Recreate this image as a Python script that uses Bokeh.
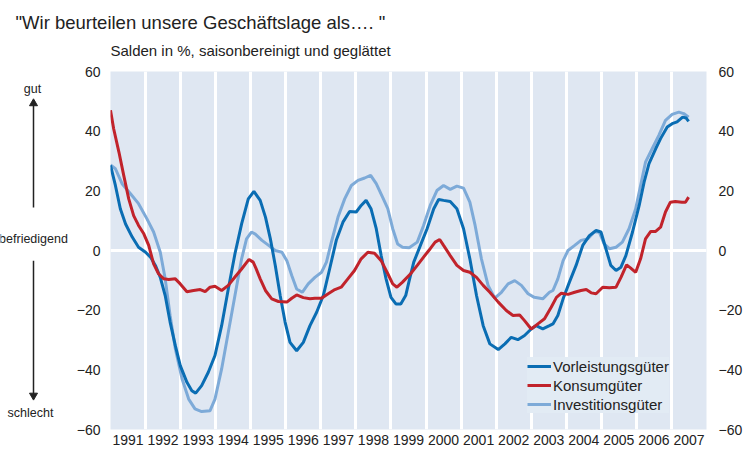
from bokeh.plotting import figure
from bokeh.layouts import column, row
from bokeh.models import (LinearAxis, FixedTicker, CustomJSTickFormatter, Legend, LegendItem,
                          Range1d)
from bokeh.core.properties import value
from bokeh.embed import file_html
from bokeh.resources import INLINE

# ---------------- data ----------------
title_text = "\"Wir beurteilen unsere Geschäftslage als…. \""
subtitle_text = "Salden in %, saisonbereinigt und geglättet"
series_names = ["Vorleistungsgüter", "Konsumgüter", "Investitionsgüter"]
year_labels = list(range(1991, 2008))
y_ticks = [-60, -40, -20, 0, 20, 40, 60]
side_texts = ["gut", "befriedigend", "schlecht"]
side_text_y = [54.3, 4.0, -54.6]          # in Salden-% units of the main scale
arrow_up = (14.4, 50.6)                   # shaft start, tip
arrow_down = (-3.4, -49.9)

t_vor = [1991.00, 1991.14, 1991.28, 1991.43, 1991.62, 1991.80, 1992.00, 1992.14, 1992.28, 1992.42,
         1992.56, 1992.70, 1992.85, 1992.99, 1993.18, 1993.32, 1993.43, 1993.60, 1993.79, 1993.98,
         1994.17, 1994.36, 1994.55, 1994.74, 1994.93, 1995.09, 1995.27, 1995.42, 1995.56, 1995.70,
         1995.84, 1995.98, 1996.12, 1996.31, 1996.50, 1996.69, 1996.88, 1997.07, 1997.25, 1997.44,
         1997.63, 1997.82, 1998.01, 1998.15, 1998.29, 1998.43, 1998.58, 1998.72, 1998.86, 1999.00,
         1999.14, 1999.28, 1999.42, 1999.51, 1999.65, 1999.84, 2000.03, 2000.22, 2000.36, 2000.50,
         2000.69, 2000.88, 2001.07, 2001.25, 2001.44, 2001.63, 2001.82, 2002.06, 2002.25, 2002.43,
         2002.62, 2002.81, 2003.00, 2003.14, 2003.33, 2003.52, 2003.62, 2003.76, 2003.91, 2004.09,
         2004.28, 2004.47, 2004.66, 2004.85, 2004.99, 2005.13, 2005.27, 2005.42, 2005.56, 2005.70,
         2005.89, 2006.08, 2006.22, 2006.36, 2006.55, 2006.69, 2006.88, 2007.02, 2007.16, 2007.32,
         2007.42, 2007.49]
vor = [28.5, 21.8, 14.0, 8.9, 4.5, 1.1, -0.6, -2.2, -5.0, -9.0,
       -15.1, -24.0, -31.9, -38.6, -44.2, -47.0, -47.8, -45.3, -40.8, -35.2,
       -25.2, -12.9, -1.1, 8.9, 17.3, 19.8, 16.8, 11.2, 3.9, -5.0,
       -15.1, -24.0, -30.8, -33.6, -30.8, -25.2, -20.7, -15.1, -6.2, 3.4,
       9.5, 13.1, 12.9, 15.1, 16.8, 14.0, 7.3, -1.7, -9.5, -15.7,
       -17.9, -17.9, -15.1, -10.6, -3.9, 1.7, 7.3, 14.0, 17.1, 16.8,
       16.4, 14.0, 7.3, -2.8, -15.1, -25.2, -31.3, -33.2, -31.3, -29.1,
       -29.9, -28.5, -26.3, -25.2, -26.3, -25.2, -24.6, -21.8, -16.2, -10.6,
       -5.0, 1.7, 5.0, 6.7, 6.2, 0.6, -5.0, -6.7, -5.6, -1.7,
       6.2, 15.1, 22.9, 29.1, 34.1, 37.5, 41.4, 42.5, 43.1, 44.7,
       44.4, 43.3]

t_kon = [1991.00, 1991.09, 1991.24, 1991.38, 1991.52, 1991.66, 1991.80, 1991.95, 1992.09, 1992.23,
         1992.37, 1992.52, 1992.66, 1992.85, 1992.99, 1993.18, 1993.37, 1993.56, 1993.70, 1993.84,
         1993.98, 1994.17, 1994.36, 1994.55, 1994.74, 1994.95, 1995.07, 1995.15, 1995.27, 1995.42,
         1995.60, 1995.79, 1996.03, 1996.17, 1996.31, 1996.50, 1996.69, 1996.83, 1997.02, 1997.21,
         1997.40, 1997.58, 1997.77, 1997.96, 1998.15, 1998.34, 1998.53, 1998.72, 1998.91, 1999.05,
         1999.17, 1999.33, 1999.56, 1999.75, 1999.93, 2000.12, 2000.26, 2000.39, 2000.50, 2000.69,
         2000.88, 2001.07, 2001.25, 2001.44, 2001.63, 2001.82, 2002.06, 2002.29, 2002.48, 2002.67,
         2002.81, 2003.00, 2003.19, 2003.38, 2003.57, 2003.72, 2003.86, 2004.05, 2004.24, 2004.42,
         2004.57, 2004.71, 2004.85, 2005.04, 2005.23, 2005.42, 2005.56, 2005.72, 2005.84, 2005.98,
         2006.12, 2006.26, 2006.41, 2006.55, 2006.69, 2006.83, 2006.97, 2007.11, 2007.30, 2007.40,
         2007.49]
kon = [47.0, 40.8, 33.0, 25.0, 17.3, 11.7, 8.4, 5.6, 1.7, -4.5,
       -7.8, -9.5, -9.7, -9.5, -11.2, -13.8, -13.4, -13.1, -13.8, -12.3,
       -12.0, -13.4, -11.7, -8.9, -6.2, -3.0, -3.9, -6.0, -9.5, -13.4,
       -16.2, -17.1, -17.3, -16.0, -14.9, -15.8, -16.2, -16.0, -16.0, -14.5,
       -13.1, -12.3, -9.5, -6.7, -2.8, -0.6, -0.9, -3.4, -7.8, -11.2,
       -12.3, -10.6, -7.8, -5.0, -2.2, 0.6, 2.8, 3.7, 1.7, -1.7,
       -5.0, -6.7, -7.3, -9.0, -11.7, -14.0, -17.3, -20.1, -21.8, -21.6,
       -23.5, -26.3, -24.6, -22.9, -19.0, -15.7, -14.3, -14.7, -14.0, -13.4,
       -13.1, -14.2, -14.5, -12.3, -12.5, -12.3, -9.0, -4.8, -5.9, -7.3,
       -2.8, 3.9, 6.4, 6.4, 7.8, 12.9, 16.2, 16.4, 16.2, 16.2,
       17.9]

t_inv = [1991.00, 1991.14, 1991.33, 1991.57, 1991.80, 1992.04, 1992.23, 1992.42, 1992.56, 1992.70,
         1992.85, 1993.04, 1993.23, 1993.41, 1993.60, 1993.84, 1993.98, 1994.17, 1994.36, 1994.55,
         1994.74, 1994.88, 1995.02, 1995.13, 1995.32, 1995.51, 1995.70, 1995.89, 1996.03, 1996.17,
         1996.31, 1996.47, 1996.64, 1996.83, 1997.02, 1997.16, 1997.30, 1997.49, 1997.68, 1997.87,
         1998.06, 1998.25, 1998.42, 1998.58, 1998.76, 1998.91, 1999.05, 1999.19, 1999.33, 1999.52,
         1999.75, 1999.93, 2000.12, 2000.31, 2000.50, 2000.69, 2000.88, 2001.07, 2001.25, 2001.40,
         2001.58, 2001.77, 2001.96, 2002.15, 2002.34, 2002.53, 2002.72, 2002.91, 2003.09, 2003.33,
         2003.52, 2003.62, 2003.76, 2003.91, 2004.05, 2004.24, 2004.42, 2004.61, 2004.80, 2004.94,
         2005.08, 2005.23, 2005.42, 2005.60, 2005.79, 2005.98, 2006.12, 2006.26, 2006.45, 2006.64,
         2006.83, 2007.02, 2007.21, 2007.35, 2007.49]
inv = [28.7, 27.4, 22.4, 19.0, 15.7, 10.6, 6.2, -0.6, -9.5, -21.8,
       -33.0, -43.0, -49.8, -53.1, -54.0, -53.7, -49.8, -39.7, -27.4, -15.1,
       -2.8, 3.9, 6.2, 5.5, 3.4, 1.7, 0.0, -0.6, -3.4, -8.4,
       -12.9, -14.0, -11.2, -9.0, -7.3, -3.9, 2.8, 11.2, 17.3, 21.8,
       23.5, 24.3, 25.2, 22.4, 17.9, 14.0, 7.3, 2.2, 1.1, 0.9,
       2.8, 8.4, 15.1, 20.1, 21.8, 20.5, 21.6, 20.9, 16.2, 8.4,
       -2.8, -11.7, -16.0, -14.0, -11.2, -10.1, -11.7, -14.5, -15.7, -16.2,
       -14.0, -13.4, -9.5, -3.4, 0.0, 1.7, 3.4, 3.9, 6.2, 6.2,
       2.2, 0.6, 1.1, 2.8, 7.3, 14.0, 21.8, 29.6, 34.1, 38.6,
       43.6, 45.6, 46.4, 45.9, 44.7]

# ---------------- styling / layout ----------------
FONT = "Liberation Sans"
TXT = "#222222"
BAND = "#dfe7f2"
C_VOR, C_KON, C_INV = "#0a6db3", "#c1232b", "#7daad8"

TOTAL_W = 745
HDR_H = 62
BODY_H = 389
SIDE_W = 70
MAIN_W = TOTAL_W - SIDE_W
B_TOP, B_BOT = 9, 22

common = dict(output_backend="svg", toolbar_location=None, title_location=None,
              border_fill_color="white", outline_line_color=None)

# ---- header (title + subtitle) ----
hdr = figure(width=TOTAL_W, height=HDR_H, x_range=Range1d(0, TOTAL_W), y_range=Range1d(HDR_H, 0),
             x_axis_location=None, y_axis_location=None,
             min_border_left=0, min_border_right=0, min_border_top=0, min_border_bottom=0,
             background_fill_color="white", **common)
hdr.grid.visible = False
hdr.text(x=[15], y=[22], text=[title_text], text_font=value(FONT), text_font_size="18.5px",
         text_baseline="alphabetic", text_align="left", text_color=TXT)
hdr.text(x=[SIDE_W + 40], y=[50], text=[subtitle_text], text_font=value(FONT),
         text_font_size="15px", text_baseline="alphabetic", text_align="left", text_color=TXT)

# ---- main chart ----
yr = Range1d(-60, 60)
p = figure(width=MAIN_W, height=BODY_H, x_range=Range1d(1991, 2008), y_range=yr,
           min_border_left=40, min_border_right=37, min_border_top=B_TOP, min_border_bottom=B_BOT,
           background_fill_color=BAND, **common)

p.xgrid.ticker = FixedTicker(ticks=year_labels[1:])
p.xgrid.grid_line_color = "white"
p.xgrid.grid_line_width = 3
p.ygrid.ticker = FixedTicker(ticks=[0])
p.ygrid.grid_line_color = "white"
p.ygrid.grid_line_width = 3

xa = p.xaxis[0]
xa.ticker = FixedTicker(ticks=[y + 0.5 for y in year_labels])
xa.formatter = CustomJSTickFormatter(code="return Math.floor(tick).toFixed(0);")
xa.axis_line_color = None
xa.major_tick_line_color = None
xa.minor_tick_line_color = None
xa.major_tick_out = 0
xa.major_tick_in = 0
xa.minor_tick_out = 0
xa.major_label_standoff = 5
xa.major_label_text_font = FONT
xa.major_label_text_font_size = "14px"
xa.major_label_text_color = TXT

def style_y(ax, standoff):
    ax.ticker = FixedTicker(ticks=y_ticks)
    ax.axis_line_color = None
    ax.major_tick_line_color = None
    ax.minor_tick_line_color = None
    ax.major_tick_out = 0
    ax.major_tick_in = 0
    ax.minor_tick_out = 0
    ax.major_label_standoff = standoff
    ax.major_label_text_font = FONT
    ax.major_label_text_font_size = "14px"
    ax.major_label_text_color = TXT

style_y(p.yaxis[0], 10)
ra = LinearAxis()
style_y(ra, 12)
p.add_layout(ra, "right")

r_inv = p.line(t_inv, inv, line_color=C_INV, line_width=3)
r_vor = p.line(t_vor, vor, line_color=C_VOR, line_width=3)
r_kon = p.line(t_kon, kon, line_color=C_KON, line_width=3)

legend = Legend(items=[LegendItem(label=series_names[0], renderers=[r_vor]),
                       LegendItem(label=series_names[1], renderers=[r_kon]),
                       LegendItem(label=series_names[2], renderers=[r_inv])],
                location=(417, 16), orientation="vertical",
                background_fill_color="#e2ebf4", background_fill_alpha=1.0,
                border_line_color=None, padding=4, margin=0, spacing=1,
                glyph_width=24, glyph_height=18, label_height=18, label_standoff=2,
                label_text_font=FONT, label_text_font_size="15px", label_text_color=TXT)
p.add_layout(legend)

# ---- side panel: gut / befriedigend / schlecht with arrows ----
side = figure(width=SIDE_W, height=BODY_H, x_range=Range1d(0, SIDE_W), y_range=yr,
              x_axis_location=None, y_axis_location=None,
              min_border_left=0, min_border_right=0, min_border_top=B_TOP, min_border_bottom=B_BOT,
              background_fill_color="white", **common)
side.grid.visible = False
side.text(x=[32, 33, 30], y=side_text_y, text=side_texts, text_font=value(FONT),
          text_font_size="12.5px", text_align="center", text_baseline="middle", text_color=TXT)
side.segment(x0=[33, 33], y0=[arrow_up[0], arrow_down[0]],
             x1=[33, 33], y1=[arrow_up[1] - 1.5, arrow_down[1] + 1.5],
             line_color=TXT, line_width=1.5)
side.scatter(x=[33], y=[arrow_up[1] - 1.3], marker="triangle", size=8,
             fill_color=TXT, line_color=TXT)
side.scatter(x=[33], y=[arrow_down[1] + 1.3], marker="inverted_triangle", size=8,
             fill_color=TXT, line_color=TXT)

layout = column(hdr, row(side, p, spacing=0), spacing=0)
open("out.html", "w").write(file_html(layout, INLINE))
